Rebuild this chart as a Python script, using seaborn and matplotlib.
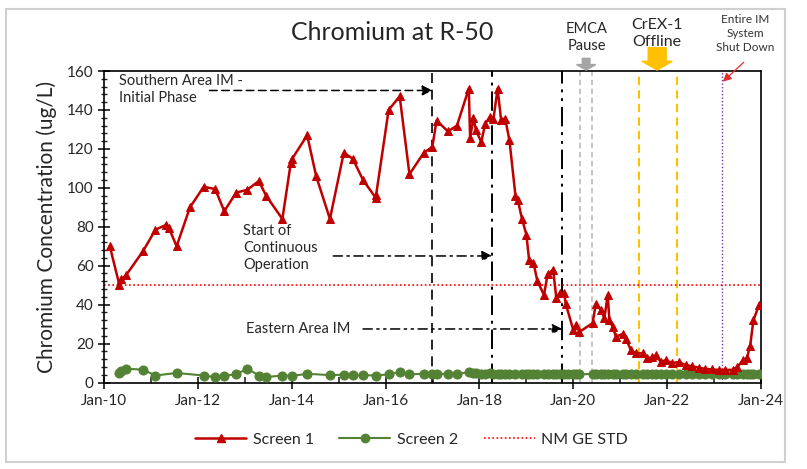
import seaborn as sns
import pandas as pd
import matplotlib.pyplot as plt
import matplotlib.dates as mdates
from matplotlib.patches import FancyArrow, Rectangle
from matplotlib.lines import Line2D

# Screen 1 samples (ug/L)
s1_dates = [
    "2010-02-15", "2010-05-01", "2010-05-15", "2010-06-20", "2010-11-01", "2011-02-05",
    "2011-05-01", "2011-05-20", "2011-07-20", "2011-11-01", "2012-02-15", "2012-05-15",
    "2012-07-25", "2012-10-25", "2013-01-20", "2013-04-20", "2013-06-15", "2013-10-20",
    "2013-12-25", "2014-01-05", "2014-05-01", "2014-07-10", "2014-10-25", "2015-02-10",
    "2015-04-20", "2015-07-10", "2015-10-15", "2015-10-20", "2016-01-25", "2016-04-20",
    "2016-07-05", "2016-10-25", "2016-12-30", "2017-02-01", "2017-05-01", "2017-07-10",
    "2017-10-10", "2017-10-20", "2017-11-15", "2017-12-05", "2018-01-15", "2018-02-15",
    "2018-03-25", "2018-04-20", "2018-05-22", "2018-06-18", "2018-07-20", "2018-08-22",
    "2018-10-08", "2018-10-27", "2018-11-28", "2019-01-01", "2019-01-22", "2019-02-25",
    "2019-03-28", "2019-05-18", "2019-06-15", "2019-07-28", "2019-08-22", "2019-09-20",
    "2019-10-22", "2019-11-03", "2020-01-01", "2020-01-22", "2020-02-18", "2020-05-30",
    "2020-06-25", "2020-08-05", "2020-08-30", "2020-09-25", "2020-10-08", "2020-11-03",
    "2020-11-28", "2021-01-20", "2021-02-15", "2021-03-25", "2021-05-01", "2021-06-25",
    "2021-07-30", "2021-09-08", "2021-10-08", "2021-11-12", "2021-12-20", "2022-02-10",
    "2022-04-01", "2022-05-25", "2022-07-15", "2022-09-05", "2022-10-25", "2022-12-15",
    "2023-02-05", "2023-03-28", "2023-05-25", "2023-07-01", "2023-08-15", "2023-09-12",
    "2023-10-08", "2023-11-03", "2023-12-18",
]
s1_values = [
    70, 50, 53, 55, 67.5, 78.5,
    81, 79.5, 70, 90, 100.5, 99.4,
    88, 97.5, 99, 103.5, 96, 84,
    113, 115, 127, 106, 84, 118,
    115, 104, 95, 96.5, 140, 147,
    107, 118, 121, 134.5, 129, 132,
    151, 125.5, 136, 129.5, 123.5, 133,
    136.5, 135.5, 151, 135, 135.5, 124.5,
    96, 93.5, 84, 76, 63, 61.5,
    52, 45, 55.5, 58, 43.5, 46,
    46, 40.5, 27, 29.5, 26, 30.5,
    40.5, 37, 33, 45, 32, 28.5,
    23.5, 25, 22.5, 16.5, 15, 15,
    12.5, 13, 14, 10.5, 11.5, 10,
    10.5, 9, 8.3, 7.6, 7, 6.7,
    6.5, 6.5, 6.5, 8, 11.5, 12.5,
    18.5, 32, 40,
]

# Screen 2 samples (ug/L)
s2_dates = [
    "2010-05-01", "2010-05-15", "2010-06-20", "2010-11-01", "2011-02-05", "2011-07-20",
    "2012-02-15", "2012-05-15", "2012-07-25", "2012-10-25", "2013-01-20", "2013-04-20",
    "2013-06-15", "2013-10-20", "2014-01-05", "2014-05-01", "2014-10-25", "2015-02-10",
    "2015-04-20", "2015-07-10", "2015-10-15", "2016-01-25", "2016-04-20", "2016-07-05",
    "2016-10-25", "2016-12-30", "2017-02-01", "2017-05-01", "2017-07-10", "2017-10-10",
    "2017-11-15", "2017-12-05", "2018-01-15", "2018-02-15", "2018-03-25", "2018-04-20",
    "2018-05-22", "2018-06-18", "2018-07-20", "2018-08-22", "2018-10-08", "2018-11-28",
    "2019-01-01", "2019-01-22", "2019-02-25", "2019-03-28", "2019-05-18", "2019-06-15",
    "2019-07-28", "2019-08-22", "2019-09-20", "2019-10-22", "2019-11-20", "2020-01-01",
    "2020-01-22", "2020-02-18", "2020-05-30", "2020-06-25", "2020-08-05", "2020-08-30",
    "2020-09-25", "2020-11-03", "2020-11-28", "2021-01-20", "2021-02-15", "2021-03-25",
    "2021-05-01", "2021-06-25", "2021-07-30", "2021-09-08", "2021-10-08", "2021-11-12",
    "2021-12-20", "2022-02-10", "2022-04-01", "2022-05-25", "2022-07-15", "2022-09-05",
    "2022-10-25", "2022-12-15", "2023-02-05", "2023-03-28", "2023-05-25", "2023-07-01",
    "2023-08-15", "2023-09-12", "2023-10-08", "2023-11-03", "2023-12-18",
]
s2_values = [
    5, 6, 7.1, 6.6, 3.6, 4.9,
    3.6, 2.8, 3.4, 4.2, 7.1, 3.6,
    2.8, 3.6, 3.4, 4.5, 3.8, 4,
    3.8, 3.8, 3.6, 4.2, 5.4, 4.2,
    4.5, 4.5, 4.6, 4.3, 4.4, 5.3,
    5, 4.8, 4.6, 4.5, 4.7, 4.5,
    4.6, 4.4, 4.5, 4.6, 4.5, 4.4,
    4.5, 4.6, 4.4, 4.5, 4.5, 4.6,
    4.4, 4.5, 4.6, 4.5, 4.3, 4.4,
    4.5, 4.2, 4.4, 4.5, 4.6, 4.4,
    4.5, 4.6, 4.5, 4.4, 4.5, 4.6,
    4.5, 4.4, 4.5, 4.6, 4.5, 4.4,
    4.5, 4.6, 4.5, 4.4, 4.5, 4.6,
    4.5, 4.4, 4.5, 4.6, 4.5, 4.4,
    4.5, 4.6, 4.5, 4.4, 4.5,
]

nm_std = 50

# event lines
southern_start = "2016-12-31"
continuous_start = "2018-04-10"
eastern_start = "2019-10-08"
emca_pause = ["2020-02-25", "2020-05-25"]
crex_offline = ["2021-05-25", "2022-03-15"]
shutdown = "2023-03-01"

red = "#C00000"
green = "#548235"

df1 = pd.DataFrame({"date": pd.to_datetime(s1_dates), "conc": s1_values})
df2 = pd.DataFrame({"date": pd.to_datetime(s2_dates), "conc": s2_values})

sns.set_style("white")
plt.rcParams["font.family"] = ["Lato", "DejaVu Sans"]

fig = plt.figure(figsize=(8.07, 4.69), dpi=100)
ax = fig.add_axes([0.1289, 0.1844, 0.8141, 0.6642])

def d(s):
    return mdates.date2num(pd.Timestamp(s))

# event vertical lines
ax.axvline(d(southern_start), color="black", lw=1.2, ls=(0, (6, 4)), zorder=1)
ax.axvline(d(continuous_start), color="black", lw=1.4, ls=(0, (10, 3, 1.5, 3)), zorder=1)
ax.axvline(d(eastern_start), color="black", lw=1.4, ls=(0, (10, 3, 1.5, 3, 1.5, 3)), zorder=1)
for x in emca_pause:
    ax.axvline(d(x), color="#BFBFBF", lw=1.3, ls=(0, (3, 2)), zorder=1)
for x in crex_offline:
    ax.axvline(d(x), color="#FFC000", lw=1.5, ls=(0, (4, 2.5)), zorder=1)
ax.axvline(d(shutdown), color="#7030A0", lw=1.0, ls=(0, (1, 1.5)), zorder=1)

ax.axhline(nm_std, color="#FF0000", lw=1.2, ls=(0, (1, 1.5)), zorder=2)

sns.lineplot(data=df2, x="date", y="conc", ax=ax, color=green, lw=1.5,
             marker="o", markersize=6.5, markeredgecolor=green, zorder=3)
sns.lineplot(data=df1, x="date", y="conc", ax=ax, color=red, lw=1.8,
             marker="^", markersize=6, markeredgecolor=red, zorder=4)

ax.set_xlim(d("2010-01-01"), d("2024-01-01"))
ax.set_ylim(0, 160)
ax.set_xlabel("")
ax.set_ylabel("Chromium Concentration (ug/L)", fontsize=15, labelpad=7)

ax.xaxis.set_major_locator(mdates.YearLocator(2))
ax.xaxis.set_minor_locator(mdates.YearLocator(1))
ax.xaxis.set_major_formatter(mdates.DateFormatter("%b-%y"))
ax.set_yticks(range(0, 161, 20))
ax.set_yticks(range(0, 161, 4), minor=True)
ax.tick_params(axis="x", which="major", direction="inout", length=8, width=1.3,
               labelsize=11, pad=4)
ax.tick_params(axis="x", which="minor", direction="in", length=4, width=1.2)
ax.tick_params(axis="y", which="major", direction="inout", length=8, width=1.3,
               labelsize=11)
ax.tick_params(axis="y", which="minor", direction="inout", length=4, width=1)
ax.tick_params(bottom=True, left=True, which="both")
for sp in ax.spines.values():
    sp.set_color("black")
    sp.set_linewidth(1.2)

fig.text(0.486, 0.93, "Chromium at R-50", fontsize=18, ha="center", va="center")

# text annotations with arrows
ax.text(d("2010-05-01"), 158.5, "Southern Area IM -\nInitial Phase", fontsize=10.5,
        va="top", ha="left", linespacing=1.25)
ax.annotate("", xy=(d(southern_start), 150), xytext=(d("2012-04-01"), 150),
            arrowprops=dict(arrowstyle="-|>,head_length=0.6,head_width=0.3", color="black",
                            lw=1.1, ls=(0, (5, 3)), shrinkA=0, shrinkB=0))
ax.text(d("2012-12-20"), 81.5, "Start of\nContinuous\nOperation", fontsize=10.5,
        va="top", ha="left", linespacing=1.3)
ax.annotate("", xy=(d(continuous_start), 65), xytext=(d("2014-11-20"), 65),
            arrowprops=dict(arrowstyle="-|>,head_length=0.6,head_width=0.3", color="black",
                            lw=1.1, ls=(0, (6, 3, 1.5, 3)), shrinkA=0, shrinkB=0))
ax.text(d("2013-01-10"), 27.5, "Eastern Area IM", fontsize=10.5, va="center", ha="left")
ax.annotate("", xy=(d(eastern_start), 27.5), xytext=(d("2015-07-10"), 27.5),
            arrowprops=dict(arrowstyle="-|>,head_length=0.6,head_width=0.3", color="black",
                            lw=1.1, ls=(0, (6, 3, 1.5, 3, 1.5, 3)), shrinkA=0, shrinkB=0))

# labels above plot
ax.text(d("2020-04-15"), 169, "EMCA\nPause", fontsize=10.5, ha="center", va="bottom",
        color="#262626", linespacing=1.3)
ax.text(d("2021-10-15"), 171.5, "CrEX-1\nOffline", fontsize=11.5, ha="center", va="bottom",
        color="#262626", linespacing=1.25)
ax.text(d("2023-09-01"), 169.5, "Entire IM\nSystem\nShut Down", fontsize=8.5, ha="center",
        va="bottom", color="#333333", linespacing=1.3)

# block arrows
ax.add_patch(FancyArrow(d("2020-04-10"), 166.5, 0, -6, width=60, head_width=150,
                        head_length=2.8, length_includes_head=True, color="#A6A6A6",
                        clip_on=False, zorder=5))
ax.add_patch(FancyArrow(d("2021-10-15"), 172, 0, -11.5, width=140, head_width=235,
                        head_length=4.5, length_includes_head=True, color="#FFC000",
                        clip_on=False, zorder=5))
ax.annotate("", xy=(d("2023-03-10"), 154.5), xytext=(d("2023-08-20"), 164.5),
            annotation_clip=False,
            arrowprops=dict(arrowstyle="-|>,head_length=0.5,head_width=0.25", color="#E03030",
                            lw=0.9, shrinkA=0, shrinkB=0))

handles = [
    Line2D([], [], color=red, lw=1.8, marker="^", markersize=6),
    Line2D([], [], color=green, lw=1.5, marker="o", markersize=6),
    Line2D([], [], color="#FF0000", lw=1.2, ls=(0, (1, 1.5))),
]
fig.legend(handles, ["Screen 1", "Screen 2", "NM GE STD"], loc="center",
           bbox_to_anchor=(0.51, 0.062), ncol=3, frameon=False, fontsize=11.5,
           handlelength=3.2, columnspacing=1.6, handletextpad=0.4)

# outer frame of the chart object
fig.add_artist(Rectangle((0.008, 0.015), 0.965, 0.965, transform=fig.transFigure,
                         fill=False, edgecolor="#D0D0D0", lw=1.5))

fig.savefig("out.png", dpi=100)
